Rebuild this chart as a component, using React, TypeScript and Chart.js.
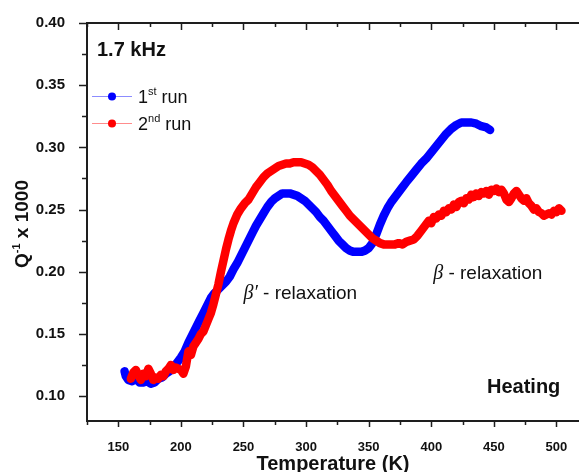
import React, { useEffect, useRef } from "react";
import { Chart, registerables } from "chart.js";

Chart.register(...registerables);

// ---- Data ----
const run1T = [
  155, 156, 158, 161, 164, 167, 170, 173, 176, 179, 182, 185, 188, 191, 194, 197, 200, 203, 206, 209,
  212, 215, 218, 221, 224, 227, 230, 233, 236, 239, 242, 245, 248, 251, 254, 257, 260, 263, 266, 269,
  272, 275, 278, 281, 284, 287, 290, 293, 296, 299, 302, 305, 308, 311, 314, 317, 320, 323, 326, 329,
  332, 335, 338, 341, 344, 347, 350, 353, 356, 359, 362, 365, 368, 371, 374, 377, 380, 384, 388, 392,
  396, 400, 404, 408, 412, 416, 420, 424, 428, 432, 436, 440, 444, 447,
];
const run1Q = [
  0.120, 0.116, 0.113, 0.112, 0.114, 0.111, 0.111, 0.112, 0.110, 0.111, 0.114, 0.115, 0.118, 0.120, 0.123, 0.127, 0.131, 0.136, 0.143, 0.149,
  0.155, 0.161, 0.167, 0.173, 0.179, 0.183, 0.186, 0.189, 0.192, 0.196, 0.202, 0.207, 0.213, 0.219, 0.225, 0.231, 0.237, 0.242, 0.247, 0.252,
  0.256, 0.259, 0.261, 0.263, 0.263, 0.263, 0.262, 0.261, 0.259, 0.257, 0.254, 0.251, 0.248, 0.244, 0.241, 0.237, 0.233, 0.229, 0.225, 0.222,
  0.219, 0.217, 0.216, 0.216, 0.216, 0.217, 0.219, 0.223, 0.230, 0.238, 0.245, 0.251, 0.256, 0.260, 0.264, 0.268, 0.272, 0.277, 0.282, 0.287,
  0.291, 0.296, 0.301, 0.306, 0.311, 0.315, 0.318, 0.320, 0.320, 0.320, 0.319, 0.317, 0.316, 0.314,
];

const run2T = [
  160, 162, 164, 166, 168, 170, 172, 174, 176, 178, 180, 182, 184, 186, 188, 190, 192, 194, 196, 198,
  200, 202, 204, 206, 208, 210, 212, 214, 216, 218, 220, 222, 224, 226, 228, 230, 232, 234, 236, 238,
  240, 242, 245, 248, 251, 254, 257, 260, 263, 266, 269, 272, 275, 278, 281, 284, 287, 290, 293, 296,
  299, 302, 305, 308, 311, 314, 317, 320, 323, 326, 329, 332, 335, 338, 341, 344, 347, 350, 353, 356,
  359, 362, 365, 368, 371, 374, 377, 380, 383, 386, 389, 392, 395, 398, 400, 402, 404, 406, 408, 410,
  412, 414, 416, 418, 420, 422, 424, 426, 428, 430, 432, 434, 436, 438, 440, 442, 444, 446, 448, 450,
  452, 454, 456, 458, 460, 462, 464, 466, 468, 470, 472, 474, 476, 478, 480, 482, 484, 486, 488, 490,
  492, 494, 496, 498, 500, 502, 504,
];
const run2Q = [
  0.114, 0.119, 0.121, 0.117, 0.113, 0.118, 0.116, 0.122, 0.118, 0.113, 0.115, 0.114, 0.117, 0.116, 0.120, 0.122, 0.125, 0.121, 0.123, 0.122,
  0.121, 0.118, 0.124, 0.136, 0.133, 0.140, 0.143, 0.146, 0.150, 0.152, 0.157, 0.162, 0.167, 0.174, 0.182, 0.190, 0.200, 0.209, 0.218, 0.226,
  0.233, 0.239, 0.246, 0.251, 0.255, 0.258, 0.263, 0.268, 0.272, 0.276, 0.279, 0.281, 0.283, 0.285, 0.286, 0.287, 0.287, 0.288, 0.288, 0.288,
  0.287, 0.286, 0.284, 0.281, 0.278, 0.274, 0.270, 0.265, 0.261, 0.257, 0.253, 0.249, 0.245, 0.242, 0.239, 0.236, 0.233, 0.230, 0.227, 0.225,
  0.223, 0.222, 0.222, 0.222, 0.222, 0.223, 0.222, 0.224, 0.225, 0.226, 0.229, 0.233, 0.237, 0.241, 0.239, 0.244, 0.243, 0.246, 0.245, 0.249,
  0.248, 0.251, 0.250, 0.254, 0.252, 0.256, 0.257, 0.255, 0.259, 0.258, 0.262, 0.260, 0.263, 0.261, 0.264, 0.263, 0.265, 0.262, 0.266, 0.265,
  0.267, 0.264, 0.266, 0.263, 0.258, 0.256, 0.259, 0.263, 0.265, 0.262, 0.259, 0.257, 0.259, 0.255, 0.253, 0.250, 0.251, 0.248, 0.247, 0.245,
  0.246, 0.247, 0.246, 0.249, 0.248, 0.251, 0.249,
];

const xMajorTicks = [150, 200, 250, 300, 350, 400, 450, 500];
const xMinorTicks = [125, 175, 225, 275, 325, 375, 425, 475];
const yMajorTicks = [0.10, 0.15, 0.20, 0.25, 0.30, 0.35, 0.40];
const yMinorTicks = [0.125, 0.175, 0.225, 0.275, 0.325, 0.375];

const X_MIN = 125;
const X_MAX = 518;
const Y_MIN = 0.08;
const Y_MAX = 0.40;

const SANS = "'Liberation Sans', Arial, sans-serif";
const SERIF = "'Liberation Serif', 'Times New Roman', serif";

type Part = { text: string; font: string; dy?: number };

function drawParts(ctx: CanvasRenderingContext2D, parts: Part[], x: number, y: number) {
  let cx = x;
  for (const p of parts) {
    ctx.font = p.font;
    ctx.fillText(p.text, cx, y + (p.dy || 0));
    cx += ctx.measureText(p.text).width;
  }
}

function partsWidth(ctx: CanvasRenderingContext2D, parts: Part[]) {
  let w = 0;
  for (const p of parts) {
    ctx.font = p.font;
    w += ctx.measureText(p.text).width;
  }
  return w;
}

const decorPlugin = {
  id: "decor",
  afterDraw(chart: any) {
    const ctx: CanvasRenderingContext2D = chart.ctx;
    const ca = chart.chartArea;
    const xs = chart.scales.x;
    const ys = chart.scales.y;
    ctx.save();

    // axis lines (left, bottom, top)
    ctx.strokeStyle = "#1e1e1e";
    ctx.lineWidth = 2;
    ctx.beginPath();
    ctx.moveTo(ca.left, ca.top);
    ctx.lineTo(ca.right, ca.top);
    ctx.moveTo(ca.left, ca.top - 1);
    ctx.lineTo(ca.left, ca.bottom + 1);
    ctx.moveTo(ca.left, ca.bottom);
    ctx.lineTo(ca.right, ca.bottom);
    ctx.stroke();

    // ticks
    ctx.lineWidth = 1.5;
    ctx.beginPath();
    for (const v of xMajorTicks) {
      const px = Math.round(xs.getPixelForValue(v)) + 0.5;
      ctx.moveTo(px, ca.bottom);
      ctx.lineTo(px, ca.bottom + 6);
      ctx.moveTo(px, ca.top);
      ctx.lineTo(px, ca.top + 7);
    }
    for (const v of xMinorTicks) {
      const px = Math.round(xs.getPixelForValue(v)) + 0.5;
      ctx.moveTo(px, ca.bottom);
      ctx.lineTo(px, ca.bottom + 4);
      ctx.moveTo(px, ca.top);
      ctx.lineTo(px, ca.top + 4);
    }
    for (const v of yMajorTicks) {
      const py = Math.round(ys.getPixelForValue(v)) + 0.5;
      ctx.moveTo(ca.left, py);
      ctx.lineTo(ca.left - 8, py);
    }
    for (const v of yMinorTicks) {
      const py = Math.round(ys.getPixelForValue(v)) + 0.5;
      ctx.moveTo(ca.left, py);
      ctx.lineTo(ca.left - 5, py);
    }
    ctx.stroke();

    ctx.fillStyle = "#111";
    ctx.textBaseline = "alphabetic";
    ctx.textAlign = "left";

    // x axis title
    const xt = "Temperature (K)";
    ctx.font = `bold 20px ${SANS}`;
    const xtw = ctx.measureText(xt).width;
    ctx.fillText(xt, (ca.left + ca.right) / 2 - xtw / 2, ca.bottom + 49);

    // y axis title with superscript
    const yParts: Part[] = [
      { text: "Q", font: `bold 19px ${SANS}` },
      { text: "-1", font: `bold 11px ${SANS}`, dy: -8 },
      { text: " x 1000", font: `bold 19px ${SANS}` },
    ];
    const yw = partsWidth(ctx, yParts);
    ctx.save();
    ctx.translate(28, (ca.top + ca.bottom) / 2 + 2);
    ctx.rotate(-Math.PI / 2);
    drawParts(ctx, yParts, -yw / 2, 0);
    ctx.restore();

    // frequency label
    ctx.font = `bold 20px ${SANS}`;
    ctx.fillText("1.7 kHz", ca.left + 10, ca.top + 33);

    // Heating label
    ctx.fillText("Heating", ca.left + 400, ca.bottom - 28);

    // legend
    const legendRows = [
      { line: "#8c8cff", dot: "#0000ff", n: "1", sup: "st", y: ca.top + 73 },
      { line: "#ff8c8c", dot: "#ff0000", n: "2", sup: "nd", y: ca.top + 100 },
    ];
    for (const r of legendRows) {
      ctx.strokeStyle = r.line;
      ctx.lineWidth = 1;
      ctx.beginPath();
      ctx.moveTo(ca.left + 5, r.y + 0.5);
      ctx.lineTo(ca.left + 45, r.y + 0.5);
      ctx.stroke();
      ctx.fillStyle = r.dot;
      ctx.beginPath();
      ctx.arc(ca.left + 25, r.y + 0.5, 4, 0, Math.PI * 2);
      ctx.fill();
      ctx.fillStyle = "#111";
      drawParts(
        ctx,
        [
          { text: r.n, font: `18px ${SANS}` },
          { text: r.sup, font: `11px ${SANS}`, dy: -8 },
          { text: " run", font: `18px ${SANS}` },
        ],
        ca.left + 51,
        r.y + 7
      );
    }

    // relaxation labels (anchored to data coordinates)
    ctx.fillStyle = "#111";
    const b1x = xs.getPixelForValue(250);
    const b1y = ys.getPixelForValue(0.178);
    drawParts(
      ctx,
      [
        { text: "β′", font: `italic 20px ${SERIF}` },
        { text: " - relaxation", font: `19px ${SANS}` },
      ],
      b1x,
      b1y
    );
    const b2x = xs.getPixelForValue(401.5);
    const b2y = ys.getPixelForValue(0.194);
    drawParts(
      ctx,
      [
        { text: "β", font: `italic 20px ${SERIF}` },
        { text: " - relaxation", font: `19px ${SANS}` },
      ],
      b2x,
      b2y
    );

    ctx.restore();
  },
};

export default function App() {
  const canvasRef = useRef<HTMLCanvasElement | null>(null);

  useEffect(() => {
    const canvas = canvasRef.current;
    if (!canvas) return;
    const run1 = run1T.map((t, i) => ({ x: t, y: run1Q[i] }));
    const run2 = run2T.map((t, i) => ({ x: t, y: run2Q[i] }));
    const chart = new Chart(canvas, {
      type: "scatter",
      data: {
        datasets: [
          {
            label: "2nd run",
            data: run2,
            showLine: true,
            borderColor: "#ff0000",
            backgroundColor: "#ff0000",
            borderWidth: 8.5,
            pointRadius: 0,
            borderCapStyle: "round",
            borderJoinStyle: "round",
            tension: 0,
          },
          {
            label: "1st run",
            data: run1,
            showLine: true,
            borderColor: "#0000ff",
            backgroundColor: "#0000ff",
            borderWidth: 8.5,
            pointRadius: 0,
            borderCapStyle: "round",
            borderJoinStyle: "round",
            tension: 0,
          },
        ],
      },
      options: {
        responsive: false,
        animation: false,
        layout: { padding: { top: 20, left: 0, right: 0, bottom: 0 } },
        plugins: {
          legend: { display: false },
          tooltip: { enabled: false },
          title: { display: false },
        },
        scales: {
          x: {
            type: "linear",
            min: X_MIN,
            max: X_MAX,
            grid: { display: false },
            border: { display: false },
            afterBuildTicks: (s: any) => {
              s.ticks = xMajorTicks.map((v) => ({ value: v }));
            },
            afterFit: (s: any) => {
              s.height = 51;
            },
            ticks: {
              autoSkip: false,
              maxRotation: 0,
              padding: 11,
              color: "#111",
              font: { family: SANS, size: 13, weight: "bold" },
              callback: (v: any) => String(v),
            },
          },
          y: {
            type: "linear",
            min: Y_MIN,
            max: Y_MAX,
            grid: { display: false },
            border: { display: false },
            afterBuildTicks: (s: any) => {
              s.ticks = yMajorTicks.map((v) => ({ value: v }));
            },
            afterFit: (s: any) => {
              s.width = 87;
            },
            ticks: {
              autoSkip: false,
              padding: 14,
              color: "#111",
              font: { family: SANS, size: 15, weight: "bold" },
              callback: (v: any) => Number(v).toFixed(2),
            },
          },
        },
      } as any,
      plugins: [decorPlugin],
    });
    return () => chart.destroy();
  }, []);

  return (
    <div
      style={{
        position: "fixed",
        left: 0,
        top: 0,
        width: 579,
        height: 472,
        background: "#ffffff",
        overflow: "hidden",
      }}
    >
      <canvas ref={canvasRef} width={579} height={472} style={{ display: "block" }} />
    </div>
  );
}
